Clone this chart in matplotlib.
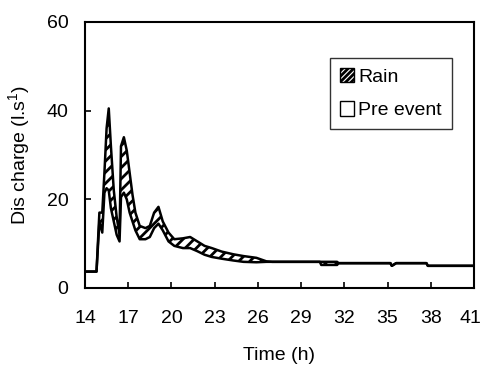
import numpy as np
import matplotlib
matplotlib.use("Agg")
import matplotlib.pyplot as plt
import matplotlib.transforms as mtransforms
from matplotlib.patches import Patch

plt.rcParams['font.family'] = ['Liberation Sans', 'DejaVu Sans']
plt.rcParams['font.size'] = 14
plt.rcParams['hatch.linewidth'] = 2.0
plt.rcParams['mathtext.fontset'] = 'custom'
plt.rcParams['mathtext.rm'] = 'Liberation Sans'

# time (h) and discharge (l/s)
time_h = [14.0, 14.8, 15.0, 15.2, 15.35, 15.5, 15.65, 15.8, 16.0, 16.2, 16.4,
          16.5, 16.7, 16.9, 17.1, 17.3, 17.5, 17.8, 18.2, 18.5, 18.8, 19.1,
          19.4, 19.8, 20.2, 20.8, 21.3, 21.8, 22.3, 22.8, 23.5, 24.3, 25.0,
          25.9, 26.6, 27.0, 30.3, 30.4, 31.5, 31.6, 35.2, 35.3, 35.6, 37.7,
          37.8, 41.0]
pre_event = [3.7, 3.7, 15.0, 12.5, 21.5, 22.5, 22.0, 18.0, 15.0, 12.0, 10.5,
             20.5, 21.5, 20.0, 17.0, 15.0, 13.0, 11.0, 11.0, 11.5, 13.5, 14.5,
             13.0, 10.5, 9.5, 9.0, 9.0, 8.3, 7.5, 7.0, 6.6, 6.2, 5.9,
             5.8, 5.9, 5.9, 5.9, 5.2, 5.2, 5.6, 5.6, 5.0, 5.6, 5.6,
             5.0, 5.0]
rain = [0.0, 0.0, 2.0, 4.5, 4.5, 13.5, 18.5, 14.0, 7.0, 4.0, 1.5,
        11.5, 12.5, 11.0, 9.0, 6.0, 4.0, 3.0, 2.5, 2.5, 3.5, 3.8,
        2.0, 2.0, 1.5, 2.2, 2.5, 2.2, 2.0, 2.0, 1.6, 1.4, 1.3,
        1.0, 0.1, 0.0, 0.0, 0.7, 0.7, 0.0, 0.0, 0.0, 0.0, 0.0,
        0.0, 0.0]

t = np.array(time_h)
pre = np.array(pre_event)
total = pre + np.array(rain)

fig = plt.figure(figsize=(4.82, 3.65), dpi=100)
ax = fig.add_axes([0.1763, 0.2110, 0.807, 0.7288])

ax.fill_between(t, 0, pre, facecolor='white', edgecolor='none')
ax.fill_between(t, pre, total, facecolor='white', edgecolor='black', hatch='///',
                linewidth=0)
ax.plot(t, pre, color='black', lw=1.8)
ax.plot(t, total, color='black', lw=1.8)

ax.set_xlim(14, 41)
ax.set_ylim(0, 60)
ax.set_xticks(np.arange(14, 42, 3))
ax.set_yticks([0, 20, 40, 60])
ax.tick_params(direction='in', length=4, width=1.2)
ax.tick_params(axis='x', pad=16)
ax.tick_params(axis='y', pad=12)
for s in ax.spines.values():
    s.set_linewidth(1.5)

# nudge the last x label so it stays inside the figure
last = ax.get_xticklabels()[-1]
last.set_transform(last.get_transform() +
                   mtransforms.ScaledTranslation(-4 / 100, 0, fig.dpi_scale_trans))

ax.set_xlabel('Time (h)', labelpad=14)
ax.set_ylabel('Dis charge (l.s$^{1}$)', labelpad=10)

handles = [Patch(facecolor='white', edgecolor='black', hatch='//////', label='Rain'),
           Patch(facecolor='white', edgecolor='black', label='Pre event')]
leg = ax.legend(handles=handles, loc='upper left', bbox_to_anchor=(0.605, 0.9),
                frameon=True, fancybox=False, handlelength=0.75, handleheight=0.75,
                handletextpad=0.2, labelspacing=0.8, borderpad=0.5)
leg.get_frame().set_edgecolor('black')
leg.get_frame().set_linewidth(1.0)

fig.savefig('out.png', dpi=100)
